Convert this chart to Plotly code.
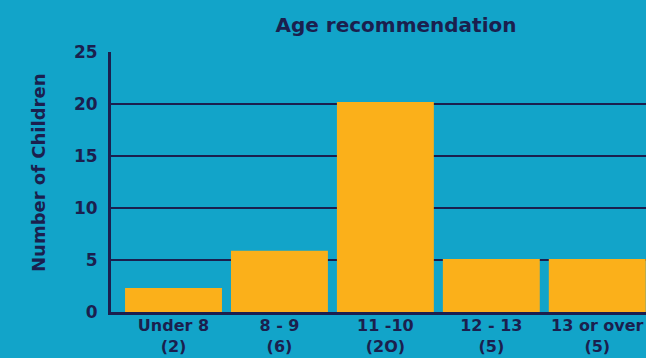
import plotly.graph_objects as go

categories = ["Under 8", "8 - 9", "11 -10", "12 - 13", "13 or over"]
counts_label = ["(2)", "(6)", "(2O)", "(5)", "(5)"]
values = [2.3, 5.9, 20.2, 5.1, 5.1]
y_ticks = [0, 5, 10, 15, 20, 25]

NAVY = "#1b1f4e"
BG = "#12a4c9"
BAR = "#fbb01a"
FONT = "DejaVu Sans"

tick_text = [f"{c}<br>{n}" for c, n in zip(categories, counts_label)]

fig = go.Figure(
    go.Bar(
        x=list(range(len(categories))),
        y=values,
        marker=dict(color=BAR, line=dict(width=0)),
        hoverinfo="skip",
    )
)

fig.update_layout(
    width=646,
    height=358,
    margin=dict(l=111, r=0, t=52, b=46),
    paper_bgcolor=BG,
    plot_bgcolor=BG,
    bargap=0.085,
    showlegend=False,
    font=dict(family=FONT, color=NAVY),
    title=dict(
        text="Age recommendation",
        font=dict(family=FONT, size=20, color=NAVY, weight="bold"),
        x=(396 - 111) / 535,
        xref="paper",
        xanchor="center",
        y=1 - 25 / 358,
        yref="container",
        yanchor="middle",
    ),
)

fig.update_xaxes(
    range=[-0.59, 4.46],
    tickmode="array",
    tickvals=list(range(len(categories))),
    ticktext=tick_text,
    tickfont=dict(family=FONT, size=16, color=NAVY, weight="bold"),
    showgrid=False,
    showline=True,
    linecolor=NAVY,
    linewidth=3,
    ticks="",
    ticklabelstandoff=-3,
    zeroline=False,
    fixedrange=True,
)

fig.update_yaxes(
    range=[0, 25],
    tickmode="array",
    tickvals=y_ticks,
    ticktext=[str(v) for v in y_ticks],
    tickfont=dict(family=FONT, size=17, color=NAVY, weight="bold"),
    showgrid=True,
    gridcolor=NAVY,
    gridwidth=1.5,
    showline=True,
    linecolor=NAVY,
    linewidth=3,
    ticks="",
    ticklabelstandoff=7,
    zeroline=False,
    fixedrange=True,
)

fig.add_annotation(
    text="Number of Children",
    xref="paper",
    yref="paper",
    x=-(111 - 38) / 535,
    y=(312 - 173) / 260,
    xanchor="center",
    yanchor="middle",
    textangle=-90,
    showarrow=False,
    font=dict(family=FONT, size=18, color=NAVY, weight="bold"),
)

fig.write_html("out.html")
